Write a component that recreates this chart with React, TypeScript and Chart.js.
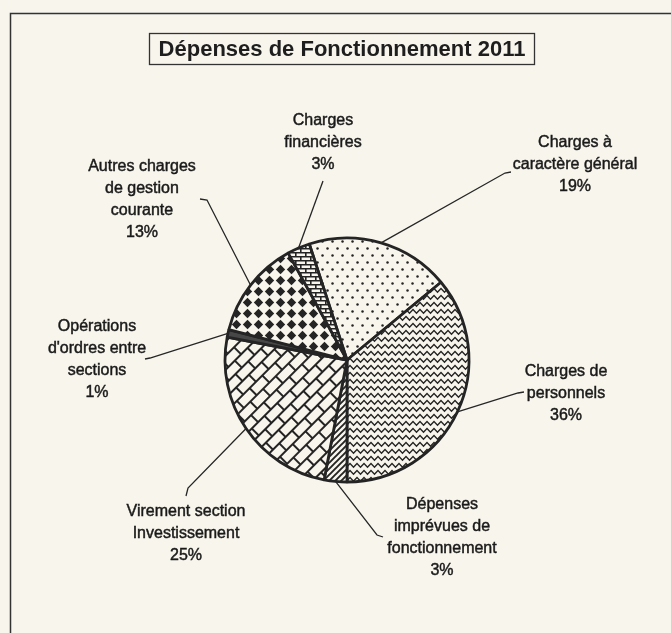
import React, { useEffect, useRef } from 'react';
import { Chart, registerables } from 'chart.js';

Chart.register(...registerables);

// ---------- data ----------
const TITLE = 'Dépenses de Fonctionnement 2011';
const CATEGORIES = [
  'Charges à caractère général',
  'Charges de personnels',
  'Dépenses imprévues de fonctionnement',
  'Virement section Investissement',
  "Opérations d'ordres entre sections",
  'Autres charges de gestion courante',
  'Charges financières',
];
const VALUES = [19, 36, 3, 25, 1, 13, 3];
const LABEL_LINES = [
  ['Charges à', 'caractère général'],
  ['Charges de', 'personnels'],
  ['Dépenses', 'imprévues de', 'fonctionnement'],
  ['Virement section', 'Investissement'],
  ['Opérations', "d'ordres entre", 'sections'],
  ['Autres charges', 'de gestion', 'courante'],
  ['Charges', 'financières'],
];

// ---------- layout (label placement and leader bends) ----------
const LABEL_LAYOUT = [
  { x: 575, y: 143, leader: [[505, 173], [511, 172]] },
  { x: 566, y: 372, leader: [[518, 393], [524, 392]] },
  { x: 442, y: 505, leader: [[377, 535], [383, 537]] },
  { x: 186, y: 512, leader: [[188, 488], [186, 496]] },
  { x: 97, y: 327, leader: [[150, 358], [145, 359]] },
  { x: 142, y: 167, leader: [[207, 200], [200, 199]] },
  { x: 323, y: 121, leader: [[323, 181]] },
];

const BG = '#f7f5ec';
const INK = '#242424';
const LINE_H = 22;

function tile(w: number, h: number, draw: (g: CanvasRenderingContext2D) => void) {
  const c = document.createElement('canvas');
  c.width = w;
  c.height = h;
  const g = c.getContext('2d')!;
  g.fillStyle = BG;
  g.fillRect(0, 0, w, h);
  g.strokeStyle = INK;
  g.fillStyle = INK;
  g.lineCap = 'butt';
  draw(g);
  return c;
}

function makePatterns(ctx: CanvasRenderingContext2D) {
  const dots = ctx.createPattern(
    tile(10, 14, (g) => {
      [[2.5, 3.5], [7.5, 10.5]].forEach(([x, y]) => {
        g.beginPath();
        g.arc(x, y, 1.25, 0, Math.PI * 2);
        g.fill();
      });
    }),
    'repeat'
  )!;
  const zigzag = ctx.createPattern(
    tile(7, 7, (g) => {
      g.lineWidth = 1.5;
      g.beginPath();
      g.moveTo(-3.5, 5.2);
      g.lineTo(0, 1.5);
      g.lineTo(3.5, 5.2);
      g.lineTo(7, 1.5);
      g.lineTo(10.5, 5.2);
      g.stroke();
    }),
    'repeat'
  )!;
  const diag = ctx.createPattern(
    tile(6, 6, (g) => {
      g.lineWidth = 1.9;
      g.beginPath();
      g.moveTo(-3, 3); g.lineTo(3, -3);
      g.moveTo(0, 6); g.lineTo(6, 0);
      g.moveTo(3, 9); g.lineTo(9, 3);
      g.stroke();
    }),
    'repeat'
  )!;
  const bricksDiag = ctx.createPattern(
    tile(18, 20, (g) => {
      g.lineWidth = 2;
      g.beginPath();
      g.moveTo(0, 1); g.lineTo(18, 1);
      g.moveTo(0, 11); g.lineTo(18, 11);
      g.moveTo(1, 1); g.lineTo(1, 11);
      g.moveTo(10, 11); g.lineTo(10, 20);
      g.stroke();
    }),
    'repeat'
  )!;
  bricksDiag.setTransform(new DOMMatrix().rotate(-45));
  const diamonds = ctx.createPattern(
    tile(11, 11, (g) => {
      g.beginPath();
      g.moveTo(5.5, 0.8);
      g.lineTo(10.2, 5.5);
      g.lineTo(5.5, 10.2);
      g.lineTo(0.8, 5.5);
      g.closePath();
      g.fill();
    }),
    'repeat'
  )!;
  const bricksSmall = ctx.createPattern(
    tile(10, 8, (g) => {
      g.lineWidth = 1.6;
      g.beginPath();
      g.moveTo(0, 0.8); g.lineTo(10, 0.8);
      g.moveTo(0, 4.8); g.lineTo(10, 4.8);
      g.moveTo(0.8, 0.8); g.lineTo(0.8, 4.8);
      g.moveTo(5.8, 4.8); g.lineTo(5.8, 8);
      g.stroke();
    }),
    'repeat'
  )!;
  return [dots, zigzag, diag, bricksDiag, '#474747', diamonds, bricksSmall];
}

const decorPlugin = {
  id: 'decor',
  beforeDraw(chart: any) {
    const { ctx, width, height } = chart;
    ctx.save();
    ctx.fillStyle = BG;
    ctx.fillRect(0, 0, width, height);
    // frame
    ctx.strokeStyle = '#333';
    ctx.lineWidth = 1.5;
    ctx.beginPath();
    ctx.moveTo(10.5, height);
    ctx.lineTo(10.5, 13.5);
    ctx.lineTo(width, 13.5);
    ctx.stroke();
    // title box
    ctx.lineWidth = 1.3;
    ctx.strokeRect(149.5, 33.5, 385, 31);
    ctx.fillStyle = '#1e1e1e';
    ctx.font = 'bold 22px "Liberation Sans", Arial, sans-serif';
    ctx.textAlign = 'center';
    ctx.textBaseline = 'middle';
    ctx.fillText(TITLE, 342, 50);
    ctx.restore();
  },
  afterDatasetsDraw(chart: any) {
    const { ctx } = chart;
    const meta = chart.getDatasetMeta(0);
    const total = VALUES.reduce((a, b) => a + b, 0);
    ctx.save();
    meta.data.forEach((arc: any, i: number) => {
      const lay = LABEL_LAYOUT[i];
      const mid = (arc.startAngle + arc.endAngle) / 2;
      const ex = arc.x + arc.outerRadius * Math.cos(mid);
      const ey = arc.y + arc.outerRadius * Math.sin(mid);
      ctx.strokeStyle = '#262626';
      ctx.lineWidth = 1.3;
      ctx.beginPath();
      ctx.moveTo(ex, ey);
      lay.leader.forEach(([x, y]) => ctx.lineTo(x, y));
      ctx.stroke();
      const lines = [...LABEL_LINES[i], `${Math.round((VALUES[i] / total) * 100)}%`];
      ctx.fillStyle = '#1a1a1a';
      ctx.strokeStyle = '#1a1a1a';
      ctx.lineWidth = 0.45;
      ctx.font = '16px "Liberation Sans", Arial, sans-serif';
      ctx.textAlign = 'center';
      ctx.textBaseline = 'middle';
      lines.forEach((t, k) => {
        ctx.fillText(t, lay.x, lay.y + k * LINE_H);
        ctx.strokeText(t, lay.x, lay.y + k * LINE_H);
      });
    });
    ctx.restore();
  },
};

export default function App() {
  const ref = useRef<HTMLCanvasElement | null>(null);
  useEffect(() => {
    document.body.style.margin = '0';
    document.body.style.background = BG;
    const canvas = ref.current!;
    const ctx = canvas.getContext('2d')!;
    const patterns = makePatterns(ctx);
    const chart = new Chart(canvas, {
      type: 'pie',
      data: {
        labels: CATEGORIES,
        datasets: [
          {
            data: VALUES,
            backgroundColor: patterns as any,
            borderColor: '#242424',
            borderWidth: 2.8,
          },
        ],
      },
      options: {
        responsive: false,
        devicePixelRatio: 1,
        animation: false,
        events: [],
        rotation: -18,
        radius: 122,
        layout: { padding: { left: 100, right: 77, top: 150, bottom: 63 } },
        plugins: {
          legend: { display: false },
          tooltip: { enabled: false },
          title: { display: false },
        },
      },
      plugins: [decorPlugin],
    });
    return () => chart.destroy();
  }, []);
  return (
    <div style={{ width: 671, height: 633 }}>
      <canvas ref={ref} width={671} height={633} style={{ display: 'block' }} />
    </div>
  );
}
